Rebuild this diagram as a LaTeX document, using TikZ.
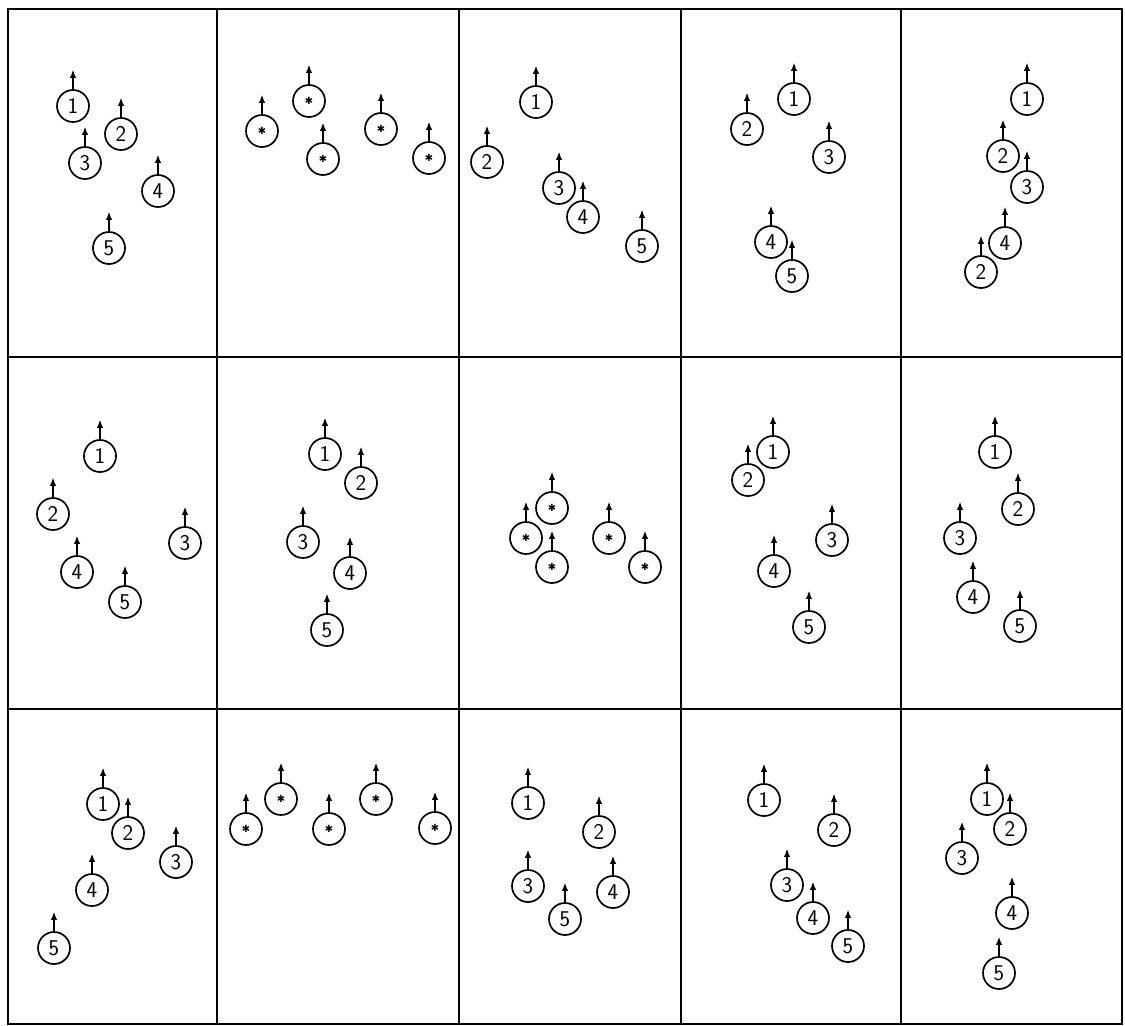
\documentclass[tikz,border=0pt]{standalone}
\usepackage{fontspec}
\newfontfamily\starfont{DejaVu Sans}
\usetikzlibrary{arrows.meta}

% one player: [extra style] name, x, y, text
\newcommand{\plr}[5][]{%
  \node[pl,#1] (#2) at (#3,#4) {#5};
  \coordinate (#2t) at ([yshift=14pt]#2.north);
  \draw[up] (#2) -- (#2t);}

\begin{document}
\begin{tikzpicture}[x=0.025cm,y=-0.025cm]
\tikzstyle{pl}=[draw, circle, line width=1.2pt, minimum size=0.8cm,
inner sep=0pt, font=\sffamily\fontsize{16}{16}\selectfont]
\tikzstyle{dot}=[font=\starfont\fontsize{7}{7}\selectfont]
\tikzstyle{up}=[line width=1.2pt, -{Latex[length=6pt,width=4.6pt]}]
\tikzstyle{grid}=[line width=1pt]

\useasboundingbox (0,0) rectangle (1125,1026);

% frame
\draw[grid] (8,9) rectangle (1122,1024);
\foreach \gx in {217,459,681,901} \draw[grid] (\gx,9) -- (\gx,1024);
\foreach \gy in {357,709} \draw[grid] (8,\gy) -- (1122,\gy);

% top row
\foreach \n/\x/\y in {1/73/106,2/121/134,3/85/163,4/158/191,5/109/248}
  \plr{A\n}{\x}{\y}{\n};
\foreach \n/\x/\y in {1/262/131,2/309/101,3/323/159,4/381/129,5/429/158}
  \plr[dot]{B\n}{\x}{\y}{✱};
\foreach \n/\x/\y in {1/536/102,2/487/162,3/559/188,4/583/217,5/642/246}
  \plr{C\n}{\x}{\y}{\n};
\foreach \n/\x/\y in {1/794/99,2/747/129,3/829/157,4/771/242,5/792/276}
  \plr{D\n}{\x}{\y}{\n};
\foreach \n/\x/\y/\t in {1/1027/99/1,2/1003/156/2,3/1027/187/3,4/1005/243/4,5/981/272/2}
  \plr{E\n}{\x}{\y}{\t};

% middle row
\foreach \n/\x/\y in {1/100/456,2/53/514,3/185/543,4/77/572,5/125/602}
  \plr{F\n}{\x}{\y}{\n};
\foreach \n/\x/\y in {1/325/454,2/361/483,3/303/542,4/350/573,5/327/630}
  \plr{G\n}{\x}{\y}{\n};
\foreach \n/\x/\y in {1/552/508,2/526/538,3/552/567,4/609/538,5/645/567}
  \plr[dot]{H\n}{\x}{\y}{✱};
\foreach \n/\x/\y in {1/773/452,2/748/480,3/832/540,4/774/571,5/809/627}
  \plr{I\n}{\x}{\y}{\n};
\foreach \n/\x/\y in {1/995/452,2/1018/509,3/960/538,4/973/597,5/1020/626}
  \plr{J\n}{\x}{\y}{\n};

% bottom row
\foreach \n/\x/\y in {1/103/804,2/128/833,3/176/862,4/92/890,5/54/948}
  \plr{K\n}{\x}{\y}{\n};
\foreach \n/\x/\y in {1/246/829,2/281/799,3/329/829,4/376/799,5/435/828}
  \plr[dot]{L\n}{\x}{\y}{✱};
\foreach \n/\x/\y in {1/528/803,2/599/832,3/528/886,4/613/892,5/565/919}
  \plr{M\n}{\x}{\y}{\n};
\foreach \n/\x/\y in {1/764/800,2/834/830,3/787/885,4/813/918,5/848/946}
  \plr{N\n}{\x}{\y}{\n};
\foreach \n/\x/\y in {1/987/799,2/1010/829,3/962/858,4/1012/913,5/999/973}
  \plr{O\n}{\x}{\y}{\n};

\end{tikzpicture}
\end{document}
